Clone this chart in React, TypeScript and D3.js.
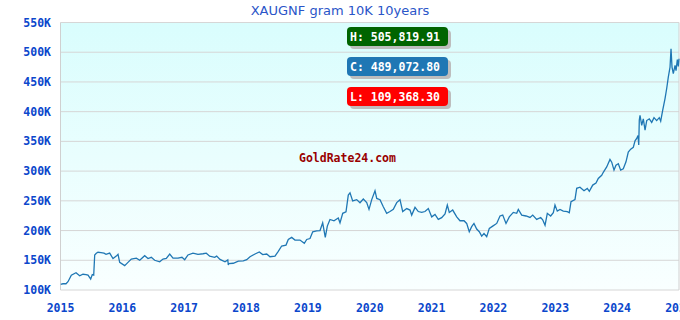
import React from "react";
import * as d3 from "d3";

const title = "XAUGNF gram 10K 10years";
const yTicks = [100, 150, 200, 250, 300, 350, 400, 450, 500, 550];
const xTicks = [2015, 2016, 2017, 2018, 2019, 2020, 2021, 2022, 2023, 2024, 2025];
const labelHigh = "H: 505,819.91";
const labelClose = "C: 489,072.80";
const labelLow = "L: 109,368.30";
const watermark = "GoldRate24.com";

// time in decimal years
const years = [
  2015.0, 2015.04, 2015.089, 2015.121, 2015.175, 2015.251, 2015.31, 2015.364, 2015.412, 2015.445,
  2015.488, 2015.514, 2015.537, 2015.553, 2015.579, 2015.606, 2015.655, 2015.703, 2015.736, 2015.795,
  2015.849, 2015.902, 2015.93, 2015.957, 2016.038, 2016.091, 2016.145, 2016.226, 2016.281, 2016.361,
  2016.415, 2016.468, 2016.523, 2016.604, 2016.657, 2016.711, 2016.766, 2016.819, 2016.9, 2016.964,
  2017.008, 2017.061, 2017.142, 2017.223, 2017.304, 2017.357, 2017.412, 2017.493, 2017.525, 2017.579,
  2017.66, 2017.705, 2017.713, 2017.72, 2017.794, 2017.875, 2017.956, 2018.011, 2018.064, 2018.145,
  2018.214, 2018.269, 2018.334, 2018.387, 2018.468, 2018.521, 2018.576, 2018.646, 2018.683, 2018.738,
  2018.791, 2018.872, 2018.942, 2018.981, 2019.034, 2019.078, 2019.142, 2019.196, 2019.239, 2019.281,
  2019.314, 2019.357, 2019.422, 2019.491, 2019.519, 2019.563, 2019.616, 2019.653, 2019.681, 2019.724,
  2019.789, 2019.842, 2019.896, 2019.951, 2019.988, 2020.032, 2020.085, 2020.113, 2020.166, 2020.219,
  2020.274, 2020.327, 2020.381, 2020.436, 2020.489, 2020.533, 2020.598, 2020.651, 2020.678, 2020.732,
  2020.785, 2020.84, 2020.893, 2020.947, 2021.002, 2021.055, 2021.108, 2021.163, 2021.217, 2021.254,
  2021.286, 2021.341, 2021.406, 2021.459, 2021.524, 2021.567, 2021.609, 2021.648, 2021.685, 2021.729,
  2021.771, 2021.81, 2021.847, 2021.891, 2021.933, 2021.988, 2022.053, 2022.106, 2022.15, 2022.203,
  2022.256, 2022.321, 2022.376, 2022.402, 2022.457, 2022.527, 2022.591, 2022.635, 2022.699, 2022.764,
  2022.796, 2022.834, 2022.871, 2022.925, 2022.968, 2022.995, 2023.032, 2023.076, 2023.129, 2023.194,
  2023.226, 2023.254, 2023.318, 2023.346, 2023.399, 2023.464, 2023.517, 2023.55, 2023.605, 2023.658,
  2023.695, 2023.75, 2023.776, 2023.831, 2023.884, 2023.912, 2023.949, 2023.981, 2024.019, 2024.057,
  2024.099, 2024.143, 2024.18, 2024.219, 2024.261, 2024.289, 2024.316, 2024.337, 2024.349, 2024.358,
  2024.37, 2024.397, 2024.423, 2024.451, 2024.478, 2024.52, 2024.559, 2024.596, 2024.639, 2024.681,
  2024.704, 2024.736, 2024.774, 2024.801, 2024.827, 2024.855, 2024.871, 2024.887, 2024.908, 2024.936,
  2024.952, 2024.973, 2024.989, 2025.0,
];

// price in thousands of GNF
const prices = [
  109.37, 110.5, 110.5, 114, 125, 129, 124, 126.5, 126, 125,
  118.5, 126, 125, 159, 161.7, 163.5, 163, 162, 160, 162,
  153, 157, 160, 146.5, 141, 146.5, 152, 153.5, 150, 157.7,
  153, 155, 150, 147.5, 152, 153, 160.5, 153.5, 153.5, 155,
  151, 159, 162, 160, 161, 162, 157, 155, 157, 151.5,
  147.5, 150.5, 142, 144.5, 145, 148.5, 149, 151, 156, 160.5,
  164, 159.5, 160.5, 156, 157, 165, 174, 175.5, 185, 188.5,
  184, 184, 178.5, 185, 186.5, 198, 199.5, 200, 213, 188.5,
  207.5, 218.7, 216.5, 221, 213, 229, 231.5, 259.6, 263.5, 250,
  252, 246.7, 253, 247, 235.6, 252, 267, 254, 252, 240,
  229, 232, 235.6, 247, 252, 232, 237, 234.5, 226, 239,
  232, 230.5, 232, 237, 223, 227, 218.7, 221.7, 228, 243,
  230.5, 234.5, 223, 216.5, 216.5, 212, 198, 206.5, 212, 202.5,
  198, 190.7, 195, 189.6, 203.6, 207.5, 212, 224.5, 226, 212,
  223, 230.5, 229, 235.6, 226, 224.5, 222, 226, 218.7, 222,
  218, 209, 229, 224.5, 230, 243, 232.7, 235.6, 232.7, 231.7,
  230, 248.5, 252, 271, 273, 267, 271, 266, 276.5, 280,
  287.7, 293, 298, 307, 319.6, 315, 301.7, 310, 312.5, 301.7,
  304, 315.6, 332, 337, 340, 351, 355, 360, 344, 385.7,
  394, 377, 388, 369, 385, 388, 382, 390, 385, 390,
  384, 402, 422, 439, 458, 475, 505.82, 475, 464, 478,
  469, 487.6, 476, 489.07,
];

const W = 680;
const H = 320;
const left = 60.5;
const right = 679;
const top = 22.5;
const bottom = 290;

export default function App() {
  const x = d3.scaleLinear().domain([2015, 2025]).range([left, right]);
  const y = d3.scaleLinear().domain([100, 550]).range([bottom, top]);
  const pts = years.map((t, i) => [t, prices[i]] as [number, number]);
  const line = d3
    .line<[number, number]>()
    .x((d) => x(d[0]))
    .y((d) => y(d[1]))
    .curve(d3.curveLinear);

  const mono = "'DejaVu Sans Mono', monospace";
  const boxes = [
    { text: labelHigh, color: "#006400", v: 505.82 },
    { text: labelClose, color: "#1f77b4", v: 489.07 },
    { text: labelLow, color: "#ff0000", v: 109.37 },
  ];
  const boxX = 347;
  const boxW = 101;
  const boxH = 19;
  const boxTops = [27, 57, 87];

  return (
    <svg
      width={W}
      height={H}
      style={{ position: "absolute", left: 0, top: 0, background: "#fff" }}
    >
      <defs>
        <linearGradient id="bg" x1="0" y1="0" x2="0" y2="1">
          <stop offset="0%" stopColor="#d9fdfd" />
          <stop offset="100%" stopColor="#f9ffff" />
        </linearGradient>
        <clipPath id="plot">
          <rect x={left} y={top - 30} width={right - left + 1} height={bottom - top + 30} />
        </clipPath>
      </defs>
      <text
        x={340}
        y={15}
        textAnchor="middle"
        fontFamily="'DejaVu Sans', Verdana, sans-serif"
        fontSize={13}
        fill="#2a55c8"
      >
        {title}
      </text>
      <rect x={left} y={top} width={right - left} height={bottom - top} fill="url(#bg)" />
      {yTicks.map((t) => (
        <g key={t}>
          <line x1={left} x2={right} y1={y(t)} y2={y(t)} stroke="#d6d6d6" strokeWidth={1} />
          <text
            x={51}
            y={y(t) + 4}
            textAnchor="end"
            fontFamily={mono}
            fontWeight="bold"
            fontSize={11.5}
            fill="#0b47cc"
          >
            {t}K
          </text>
        </g>
      ))}
      <line x1={left} x2={left} y1={top} y2={bottom} stroke="#d0d0d0" />
      <line x1={right} x2={right} y1={top} y2={bottom} stroke="#d0d0d0" />
      {xTicks.map((t) => (
        <text
          key={t}
          x={x(t)}
          y={312}
          textAnchor="middle"
          fontFamily={mono}
          fontWeight="bold"
          fontSize={11.5}
          fill="#0b47cc"
        >
          {t}
        </text>
      ))}
      <text
        x={299}
        y={162}
        fontFamily={mono}
        fontWeight="bold"
        fontSize={11.5}
        fill="#990000"
      >
        {watermark}
      </text>
      <path
        d={line(pts) || ""}
        fill="none"
        stroke="#1f77b4"
        strokeWidth={1.3}
        strokeLinejoin="miter"
        clipPath="url(#plot)"
      />
      {boxes.map((b, i) => (
        <g key={b.text}>
          <rect x={boxX + 3} y={boxTops[i] + 3} width={boxW} height={boxH} rx={4} fill="#bdbdbd" />
          <rect x={boxX} y={boxTops[i]} width={boxW} height={boxH} rx={4} fill={b.color} />
          <text
            x={boxX + 3}
            y={boxTops[i] + 13.5}
            fontFamily={mono}
            fontWeight="bold"
            fontSize={11.5}
            fill="#fff"
          >
            {b.text}
          </text>
        </g>
      ))}
    </svg>
  );
}
